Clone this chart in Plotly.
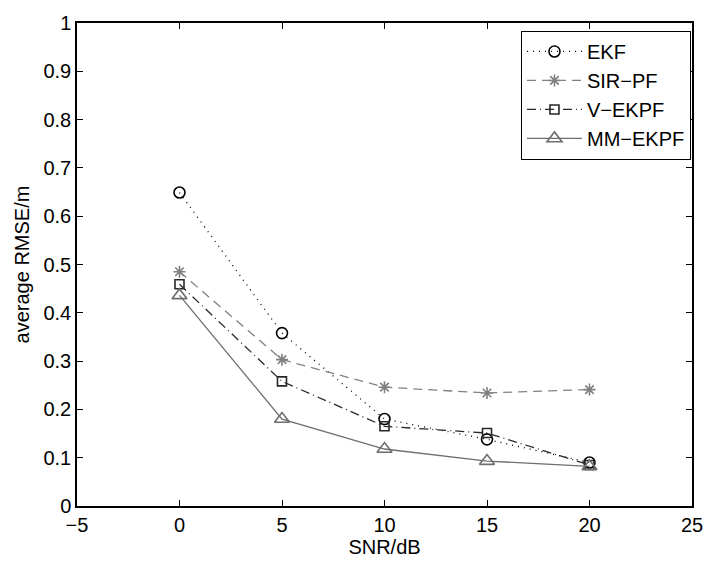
import plotly.graph_objects as go

# SNR levels (dB)
snr = [0, 5, 10, 15, 20]

# average RMSE (m) per filter
ekf = [0.649, 0.358, 0.180, 0.138, 0.090]
sir_pf = [0.485, 0.303, 0.246, 0.234, 0.241]
v_ekpf = [0.459, 0.258, 0.165, 0.151, 0.085]
mm_ekpf = [0.436, 0.180, 0.118, 0.093, 0.082]

x_ticks = [-5, 0, 5, 10, 15, 20, 25]
x_tick_text = ["\u22125", "0", "5", "10", "15", "20", "25"]
y_ticks = [0, 0.1, 0.2, 0.3, 0.4, 0.5, 0.6, 0.7, 0.8, 0.9, 1]
y_tick_text = ["0", "0.1", "0.2", "0.3", "0.4", "0.5", "0.6", "0.7", "0.8", "0.9", "1"]

series = [
    ("EKF", ekf, "black", "1px,5px", "circle-open", 11),
    ("SIR\u2212PF", sir_pf, "rgb(128,128,128)", "9px,6px", "asterisk-open", 10),
    ("V\u2212EKPF", v_ekpf, "rgb(40,40,40)", "9px,4px,1px,4px", "square-open", 9),
    ("MM\u2212EKPF", mm_ekpf, "rgb(110,110,110)", "solid", "triangle-up-open", 13),
]

fig = go.Figure()
for name, vals, color, dash, symbol, size in series:
    fig.add_trace(go.Scatter(
        x=snr, y=vals, name=name, mode="lines+markers",
        line=dict(color=color, width=1.3, dash=dash),
        marker=dict(symbol=symbol, size=size, color=color,
                    line=dict(color=color, width=1.6)),
    ))

font = dict(family="Liberation Sans, Arial, sans-serif", size=20, color="black")

axis_common = dict(
    showgrid=False, zeroline=False, showline=True, linecolor="black",
    linewidth=1.5, mirror="ticks", ticks="inside", ticklen=6,
    tickcolor="black", tickwidth=1, tickfont=font,
)

fig.update_layout(
    width=715, height=564,
    margin=dict(l=77, r=13, t=14, b=58),
    paper_bgcolor="white", plot_bgcolor="white",
    font=font,
    showlegend=True,
    legend=dict(
        x=0.998, y=0.984, xanchor="right", yanchor="top",
        bgcolor="white", bordercolor="black", borderwidth=1.2,
        font=dict(family="Liberation Sans, Arial, sans-serif", size=20, color="black"),
        itemwidth=55, tracegroupgap=0,
    ),
)
fig.update_xaxes(
    range=[-5, 25], tickvals=x_ticks, ticktext=x_tick_text,
    title=dict(text="SNR/dB", font=font, standoff=0), **axis_common,
)
fig.update_yaxes(
    range=[0, 1], tickvals=y_ticks, ticktext=y_tick_text,
    title=dict(text="average RMSE/m", font=font, standoff=8), **axis_common,
)

fig.write_html("out.html")
